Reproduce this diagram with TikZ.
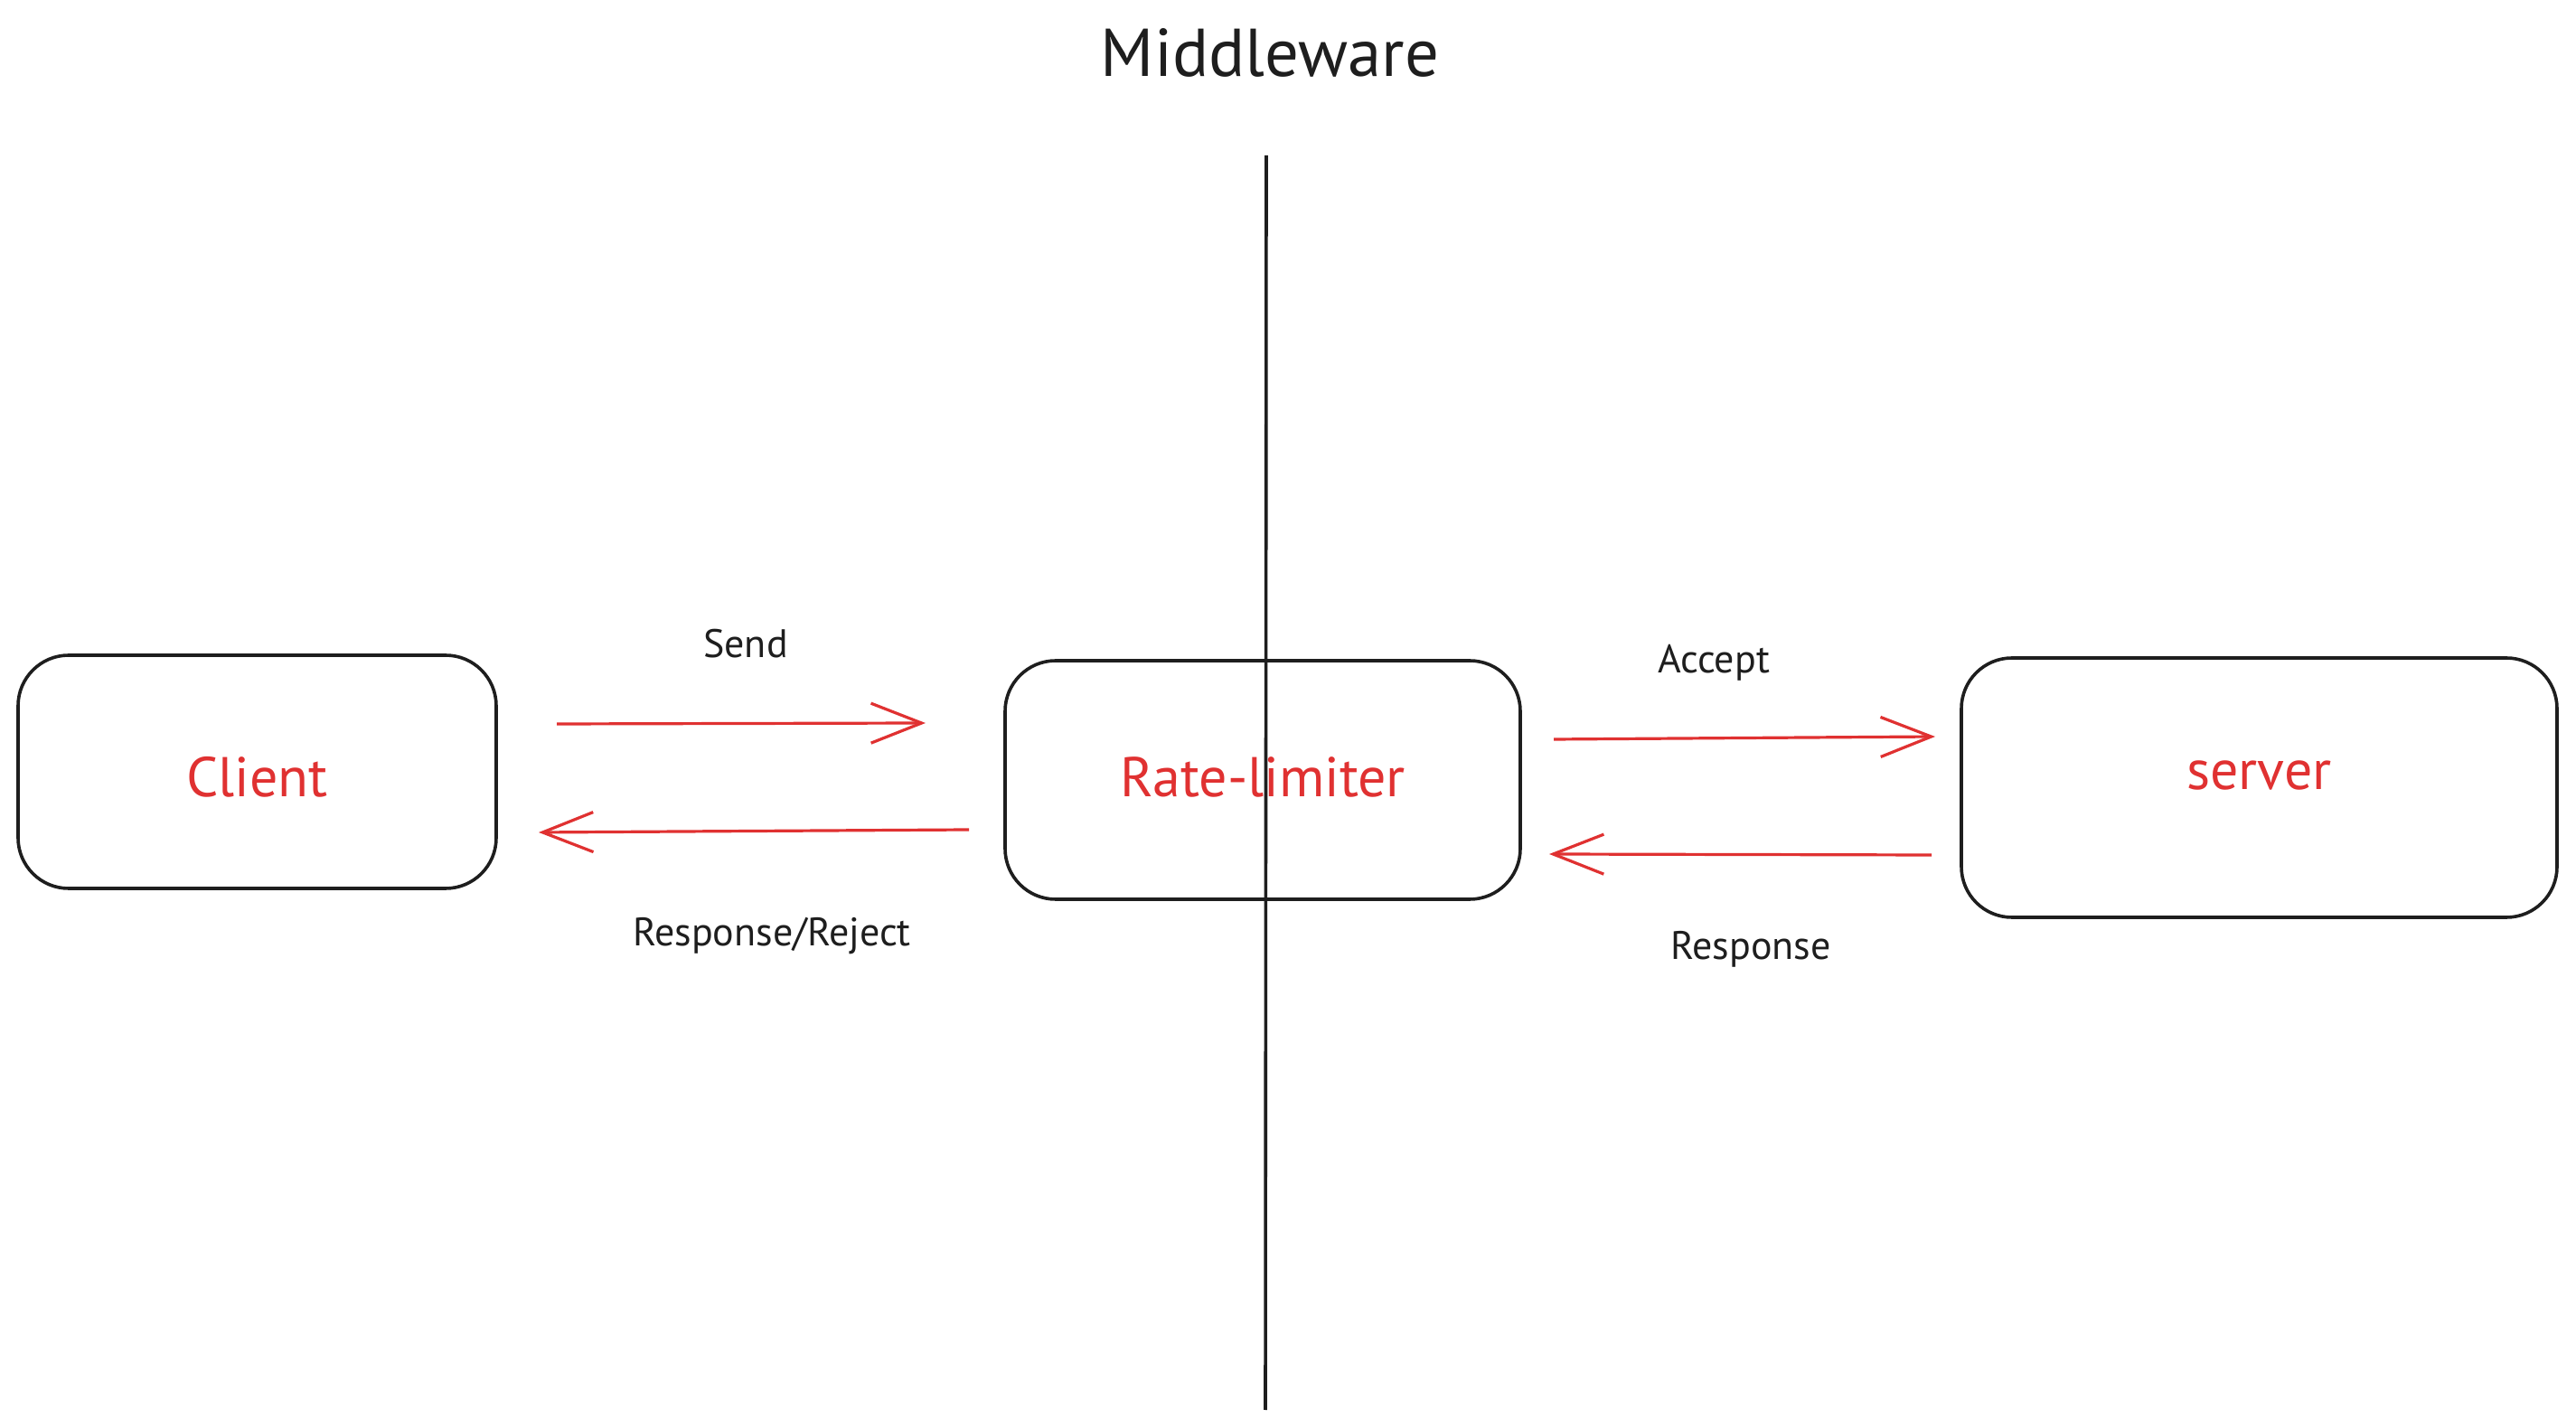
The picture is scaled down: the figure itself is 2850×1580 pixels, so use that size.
\documentclass[tikz,border=0pt]{standalone}
\usepackage{fontspec}
\setmainfont{PT Sans}
\usetikzlibrary{arrows.meta}
\definecolor{ink}{HTML}{1E1E1E}
\definecolor{exred}{HTML}{E03131}
\begin{document}
\begin{tikzpicture}[x=0.25pt,y=-0.25pt,
  box/.style={draw=ink,line width=0.9pt,rounded corners=14pt,text=exred,
    font=\fontsize{15.5}{18}\selectfont,inner sep=0pt,text depth=0pt},
  lbl/.style={text=ink,font=\fontsize{11}{13}\selectfont,anchor=base,inner sep=0pt},
  flow/.style={draw=exred,line width=0.8pt,-{Straight Barb[length=14pt,width=11pt]}},
  divider/.style={draw=ink,line width=0.9pt}]
\useasboundingbox[fill=white] (0,0) rectangle (2850,1580);
% boxes
\node[box,minimum width=132.25pt,minimum height=64.5pt,text height=14pt] (client) at (284.5,854) {Client};
\node[box,minimum width=142.5pt,minimum height=66pt,text height=9.5pt] (rate) at (1397,863) {Rate-limiter};
\node[box,minimum width=164.75pt,minimum height=71.75pt,text height=1pt] (server) at (2499.5,871.5) {server};
% title and divider
\node[lbl,font=\fontsize{18.7}{22}\selectfont] (mw) at (1405,85) {Middleware};
\coordinate (vtop) at (1401,172);
\coordinate (vbot) at (1400,1560);
\draw[divider] (vtop) -- (vbot);
% arrow end points
\coordinate (sendA) at (616,801);   \coordinate (sendB) at (1024,800);
\coordinate (rrA) at (1072,918);    \coordinate (rrB) at (596,921);
\coordinate (accA) at (1719,818);   \coordinate (accB) at (2141,815);
\coordinate (respA) at (2137,946);  \coordinate (respB) at (1714,945);
\draw[flow] (sendA) -- (sendB);
\draw[flow] (rrA) -- (rrB);
\draw[flow] (accA) -- (accB);
\draw[flow] (respA) -- (respB);
% labels
\node[lbl] (send) at (825,728) {Send};
\node[lbl] (rr) at (854,1047) {Response/Reject};
\node[lbl] (acc) at (1896,745) {Accept};
\node[lbl] (resp) at (1937,1062) {Response};
\end{tikzpicture}
\end{document}
